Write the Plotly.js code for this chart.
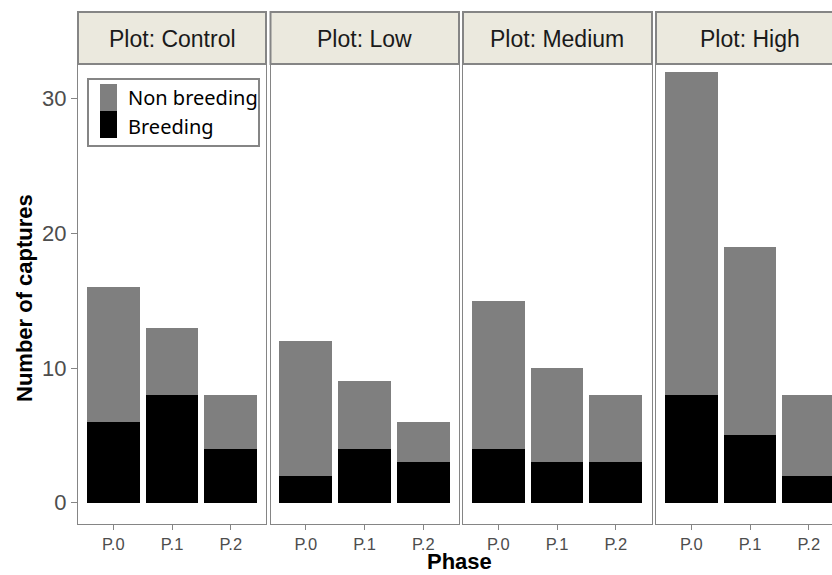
<!DOCTYPE html>
<html>
<head>
<meta charset="utf-8">
<script src="https://cdn.plot.ly/plotly-3.0.1.min.js"></script>
<style>
  html, body { margin: 0; padding: 0; background: #ffffff; overflow: hidden; }
  #chart { width: 832px; height: 575px; }
</style>
</head>
<body>
<div id="chart"></div>
<script>
// ---- data ----
const phases = ['P.0', 'P.1', 'P.2'];
const plotNames = ['Control', 'Low', 'Medium', 'High'];
const breedingControl = [6, 8, 4];
const breedingLow = [2, 4, 3];
const breedingMedium = [4, 3, 3];
const breedingHigh = [8, 5, 2];
const nonBreedingControl = [10, 5, 4];
const nonBreedingLow = [10, 5, 3];
const nonBreedingMedium = [11, 7, 5];
const nonBreedingHigh = [24, 14, 6];
const yTickVals = [0, 10, 20, 30];

const breeding = [breedingControl, breedingLow, breedingMedium, breedingHigh];
const nonBreeding = [nonBreedingControl, nonBreedingLow, nonBreedingMedium, nonBreedingHigh];

// ---- geometry (pixels) ----
const W = 832, H = 575;
const mL = 78, mR = 0, mT = 64, mB = 51;
const plotW = W - mL - mR, plotH = H - mT - mB;
const panelPx = [[78, 266], [270.5, 459], [463, 652], [656, 832]];
const pxPerCat = 188 / 3.2;
const px2x = p => (p - mL) / plotW;
const py2y = p => (H - mB - p) / plotH;

const GRAY = '#7f7f7f';
const LINE = '#858585';
const STRIP = '#ebe9de';
const FONT = 'Liberation Sans, Arial, sans-serif';

const traces = [];
const layout = {
  width: W, height: H,
  margin: { l: mL, r: mR, t: mT, b: mB, pad: 0 },
  paper_bgcolor: '#ffffff', plot_bgcolor: '#ffffff',
  barmode: 'stack', bargap: 0.1,
  showlegend: false,
  font: { family: FONT, color: '#4d4d4d' },
  shapes: [], annotations: []
};

plotNames.forEach((name, i) => {
  const n = i + 1;
  const xa = n === 1 ? 'x' : 'x' + n;
  const ya = n === 1 ? 'y' : 'y' + n;
  traces.push({
    type: 'bar', name: 'Breeding', x: phases, y: breeding[i],
    xaxis: xa, yaxis: ya, marker: { color: '#000000', line: { width: 0 } },
    hovertemplate: 'Plot: ' + name + '<br>%{x}<br>Breeding: %{y}<extra></extra>'
  });
  traces.push({
    type: 'bar', name: 'Non breeding', x: phases, y: nonBreeding[i],
    xaxis: xa, yaxis: ya, marker: { color: GRAY, line: { width: 0 } },
    hovertemplate: 'Plot: ' + name + '<br>%{x}<br>Non breeding: %{y}<extra></extra>'
  });
  const [p0, p1] = panelPx[i];
  const rangeMax = -0.6 + (p1 - p0) / pxPerCat;
  layout['xaxis' + (n === 1 ? '' : n)] = {
    domain: [px2x(p0), px2x(p1)],
    anchor: ya,
    range: [-0.6, rangeMax],
    type: 'category',
    showgrid: false, zeroline: false,
    showline: true, mirror: true, linecolor: LINE, linewidth: 1.3,
    ticks: 'outside', ticklen: 5, tickwidth: 1, tickcolor: LINE,
    tickfont: { size: 16.5, color: '#4d4d4d', family: FONT },
    fixedrange: true
  };
  layout['yaxis' + (n === 1 ? '' : n)] = {
    domain: [0, 1],
    anchor: xa,
    range: [-1.58, 32.57],
    tickvals: yTickVals,
    showticklabels: n === 1,
    ticks: n === 1 ? 'outside' : '',
    ticklen: 6, tickwidth: 1, tickcolor: LINE,
    tickfont: { size: 22, color: '#4d4d4d', family: FONT },
    showgrid: false, zeroline: false,
    showline: true, mirror: n !== 4, linecolor: LINE, linewidth: 1.3,
    fixedrange: true
  };
  // facet strip
  layout.shapes.push({
    type: 'rect', xref: 'paper', yref: 'paper',
    x0: px2x(p0), x1: px2x(i === 3 ? 845 : p1), y0: py2y(64), y1: py2y(12),
    fillcolor: STRIP, line: { color: LINE, width: 2 }, layer: 'above'
  });
  layout.annotations.push({
    xref: 'paper', yref: 'paper',
    x: px2x(p0 + 94), y: py2y(39),
    text: 'Plot: ' + name, showarrow: false,
    xanchor: 'center', yanchor: 'middle',
    font: { size: 23, color: '#1a1a1a', family: FONT }
  });
});

// axis titles
layout.annotations.push({
  xref: 'paper', yref: 'paper', x: px2x(24), y: py2y(298),
  text: '<b>Number of captures</b>', showarrow: false, textangle: -90,
  xanchor: 'center', yanchor: 'middle',
  font: { size: 22, color: '#000000', family: FONT }
});
layout.annotations.push({
  xref: 'paper', yref: 'paper', x: px2x(459), y: py2y(575),
  text: '<b>Phase</b>', showarrow: false, borderpad: 0,
  xanchor: 'center', yanchor: 'bottom',
  font: { size: 22, color: '#000000', family: FONT }
});

// legend (drawn inside the Control panel)
layout.shapes.push({
  type: 'rect', xref: 'paper', yref: 'paper',
  x0: px2x(88), x1: px2x(259), y0: py2y(146), y1: py2y(79),
  fillcolor: '#ffffff', line: { color: LINE, width: 2 }, layer: 'above'
});
layout.shapes.push({
  type: 'rect', xref: 'paper', yref: 'paper',
  x0: px2x(100), x1: px2x(117), y0: py2y(111), y1: py2y(84),
  fillcolor: GRAY, line: { width: 0 }, layer: 'above'
});
layout.shapes.push({
  type: 'rect', xref: 'paper', yref: 'paper',
  x0: px2x(100), x1: px2x(117), y0: py2y(138), y1: py2y(111),
  fillcolor: '#000000', line: { width: 0 }, layer: 'above'
});
[['Non breeding', 97], ['Breeding', 126]].forEach(([t, py]) => {
  layout.annotations.push({
    xref: 'paper', yref: 'paper', x: px2x(126), y: py2y(py),
    text: t, showarrow: false, xanchor: 'left', yanchor: 'middle',
    font: { size: 20, color: '#000000', family: 'Noto Sans, Open Sans, sans-serif' }
  });
});

Plotly.newPlot('chart', traces, layout, { displayModeBar: false });
</script>
</body>
</html>
